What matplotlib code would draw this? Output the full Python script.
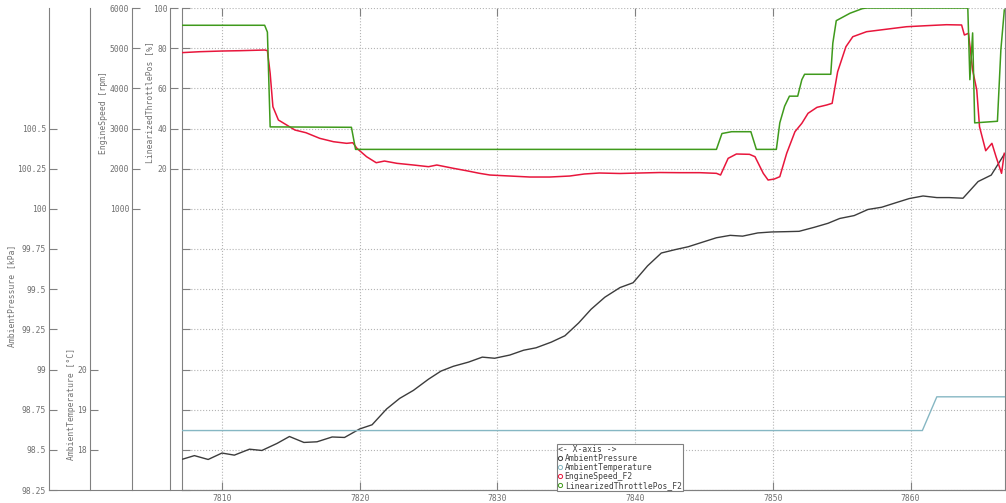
import matplotlib.pyplot as plt
from matplotlib.lines import Line2D

plt.rcParams['font.family'] = 'DejaVu Sans Mono'
plt.rcParams['font.size'] = 5.8

# --- data ---
press_t = [7807.15, 7808.0, 7809.0, 7810.0, 7810.9, 7812.0, 7812.9, 7814.0, 7814.9, 7815.95,
           7816.9, 7818.0, 7818.9, 7820.0, 7820.9, 7821.95, 7822.9, 7823.9, 7825.0, 7825.9,
           7826.8, 7827.9, 7828.9, 7829.8, 7830.9, 7831.9, 7832.8, 7833.9, 7834.9, 7835.9,
           7836.8, 7837.8, 7838.9, 7839.85, 7840.9, 7841.9, 7842.9, 7843.85, 7844.8, 7845.9,
           7846.9, 7847.8, 7848.9, 7849.9, 7851.0, 7851.9, 7853.0, 7854.0, 7854.85, 7855.9,
           7856.9, 7857.9, 7859.0, 7859.9, 7860.9, 7861.9, 7862.8, 7863.8, 7864.9, 7865.85,
           7866.8]
press = [98.442, 98.464, 98.44, 98.48, 98.467, 98.504, 98.496, 98.54, 98.583, 98.546,
         98.55, 98.58, 98.577, 98.63, 98.656, 98.754, 98.82, 98.87, 98.94, 98.99,
         99.02, 99.046, 99.077, 99.07, 99.09, 99.12, 99.135, 99.17, 99.21, 99.29,
         99.375, 99.45, 99.51, 99.54, 99.645, 99.725, 99.746, 99.764, 99.79, 99.82,
         99.835, 99.83, 99.85, 99.856, 99.858, 99.86, 99.885, 99.91, 99.94, 99.958,
         99.996, 100.01, 100.04, 100.064, 100.08, 100.07, 100.07, 100.066, 100.17, 100.21,
         100.34]

temp_t = [7807.0, 7860.85, 7861.9, 7867.0]
temp = [18.48, 18.48, 19.32, 19.32]

rpm_t = [7807.0, 7808.4, 7810.0, 7811.3, 7813.1, 7813.3, 7813.5, 7813.7, 7814.1, 7814.7,
         7815.3, 7816.1, 7817.1, 7818.1, 7819.05, 7819.5, 7819.8, 7820.5, 7821.2, 7821.8,
         7822.7, 7823.9, 7825.0, 7825.6, 7826.8, 7827.75, 7828.7, 7829.45, 7830.9, 7832.35,
         7833.8, 7835.25, 7836.3, 7837.4, 7838.9, 7840.3, 7841.8, 7843.2, 7844.7, 7845.9,
         7846.2, 7846.75, 7847.35, 7848.3, 7848.7, 7849.3, 7849.65, 7850.1, 7850.5, 7851.0,
         7851.6, 7852.1, 7852.55, 7853.2, 7853.9, 7854.3, 7854.7, 7855.3, 7855.8, 7856.8,
         7858.2, 7859.7, 7861.1, 7862.6, 7863.7, 7863.9, 7864.2, 7864.5, 7864.8, 7865.0,
         7865.45, 7865.9, 7866.2, 7866.6, 7866.8]
rpm = [4887, 4912, 4929, 4937, 4954, 4940, 4374, 3542, 3211, 3087,
       2962, 2895, 2755, 2671, 2631, 2646, 2506, 2298, 2148, 2190,
       2133, 2091, 2049, 2091, 2009, 1949, 1884, 1842, 1817, 1792,
       1792, 1817, 1867, 1892, 1880, 1892, 1904, 1900, 1900, 1884,
       1842, 2257, 2365, 2357, 2298, 1884, 1717, 1742, 1800, 2382,
       2920, 3129, 3378, 3527, 3585, 3627, 4414, 5036, 5285, 5410,
       5470, 5534, 5559, 5584, 5577, 5328, 5370, 4456, 3958, 3045,
       2447, 2631, 2298, 1884, 2382]

thr_t = [7807.0, 7813.1, 7813.3, 7813.5, 7819.4, 7819.7, 7845.9, 7846.3, 7847.0, 7848.4,
         7848.8, 7850.25, 7850.5, 7850.85, 7851.2, 7851.8, 7852.1, 7852.3, 7854.2, 7854.35,
         7854.6, 7855.6, 7856.5, 7856.8, 7864.15, 7864.3, 7864.5, 7864.65, 7866.3, 7866.55,
         7866.8]
thr = [91.4, 91.4, 88.0, 40.8, 40.6, 29.6, 29.6, 37.5, 38.4, 38.4,
       29.6, 29.6, 42.8, 51.1, 56.1, 56.1, 64.3, 67.0, 67.0, 82.5,
       93.7, 97.4, 99.7, 100.0, 100.0, 64.3, 87.6, 42.8, 43.6, 79.2,
       99.0]

x_ticks = [7810, 7820, 7830, 7840, 7850, 7860]
press_ticks = [98.25, 98.5, 98.75, 99, 99.25, 99.5, 99.75, 100, 100.25, 100.5]
temp_ticks = [18, 19, 20]
rpm_ticks = [1000, 2000, 3000, 4000, 5000, 6000]
thr_ticks = [20, 40, 60, 80, 100]

GREY = '#808080'
TXT = '#707070'

W, H = 1006, 503
fig = plt.figure(figsize=(W / 100, H / 100), dpi=100)
L, R, B, T = 182, 1005, 490, 8
ax = fig.add_axes([L / W, 1 - B / H, (R - L) / W, (B - T) / H])
ax.set_xlim(7807.1, 7866.85)
ax.set_ylim(0, 12)
ax.set_yticks(range(13))
ax.set_yticklabels([])
ax.set_xticks(x_ticks)
ax.grid(True, linestyle=':', color='#b4b4b4', lw=0.8)
ax.tick_params(direction='in', length=6, top=True, right=True, color=GREY,
               labelcolor=TXT, pad=3)
for s in ax.spines.values():
    s.set_color(GREY)
ax.spines['top'].set_visible(False)


def side_axis(off, lo, hi, ticks, labels):
    a = ax.twinx()
    a.set_ylim(lo, hi)
    for s in a.spines.values():
        s.set_visible(False)
    a.spines['left'].set_visible(True)
    a.spines['left'].set_color(GREY)
    a.spines['left'].set_position(('axes', off))
    a.yaxis.set_ticks_position('left')
    a.set_yticks(ticks)
    a.set_yticklabels(labels)
    a.tick_params(axis='y', direction='in', length=6, color=GREY, labelcolor=TXT, pad=2)
    return a


def off(px):
    return (px - L) / (R - L)


ax_p = side_axis(off(49), 98.25, 101.25, press_ticks, [f'{v:g}' for v in press_ticks])
ax_t = side_axis(off(90), 17, 29, temp_ticks, [str(v) for v in temp_ticks])
ax_r = side_axis(off(132), -6000, 6000, rpm_ticks, [str(v) for v in rpm_ticks])
ax_h = side_axis(off(170), -140, 100, thr_ticks, [str(v) for v in thr_ticks])

c_p, c_t, c_r, c_h = '#3c3c3c', '#86b7c3', '#e8163c', '#3f9a1c'
ax_p.plot(press_t, press, color=c_p, lw=1.0)
ax_t.plot(temp_t, temp, color=c_t, lw=1.0)
ax_r.plot(rpm_t, rpm, color=c_r, lw=1.1)
ax_h.plot(thr_t, thr, color=c_h, lw=1.1)

# axis titles
fig.text(12 / W, 1 - 296 / H, 'AmbientPressure [kPa]', rotation=90, ha='center', va='center', color=TXT)
fig.text(72 / W, 1 - 404 / H, 'AmbientTemperature [°C]', rotation=90, ha='center', va='center', color=TXT)
fig.text(104 / W, 1 - 113 / H, 'EngineSpeed [rpm]', rotation=90, ha='center', va='center', color=TXT)
fig.text(150 / W, 1 - 102 / H, 'LinearizedThrottlePos [%]', rotation=90, ha='center', va='center', color=TXT)

# baseline running under all the axes
fig.add_artist(Line2D([49 / W, 1], [1 - B / H, 1 - B / H], color=GREY, lw=0.8))

names = ['AmbientPressure', 'AmbientTemperature', 'EngineSpeed_F2', 'LinearizedThrottlePos_F2']
handles = [Line2D([], [], marker='o', mfc='none', mec=c, ls='none', ms=3, mew=0.7)
           for c in [c_p, c_t, c_r, c_h]]
leg = fig.legend(handles, names, title='<- X-axis ->', alignment='left',
                 loc='lower left', bbox_to_anchor=(557 / W, 1 - 491 / H),
                 fontsize=5.8, title_fontsize=5.8, frameon=True, fancybox=False,
                 edgecolor=GREY, framealpha=1, borderpad=0.15, labelspacing=0.0,
                 handletextpad=0.3, handlelength=0.5, borderaxespad=0)
leg.get_frame().set_linewidth(0.8)
for txt in leg.get_texts():
    txt.set_color('#404040')
leg.get_title().set_color('#404040')

fig.savefig('out.png', dpi=100)
